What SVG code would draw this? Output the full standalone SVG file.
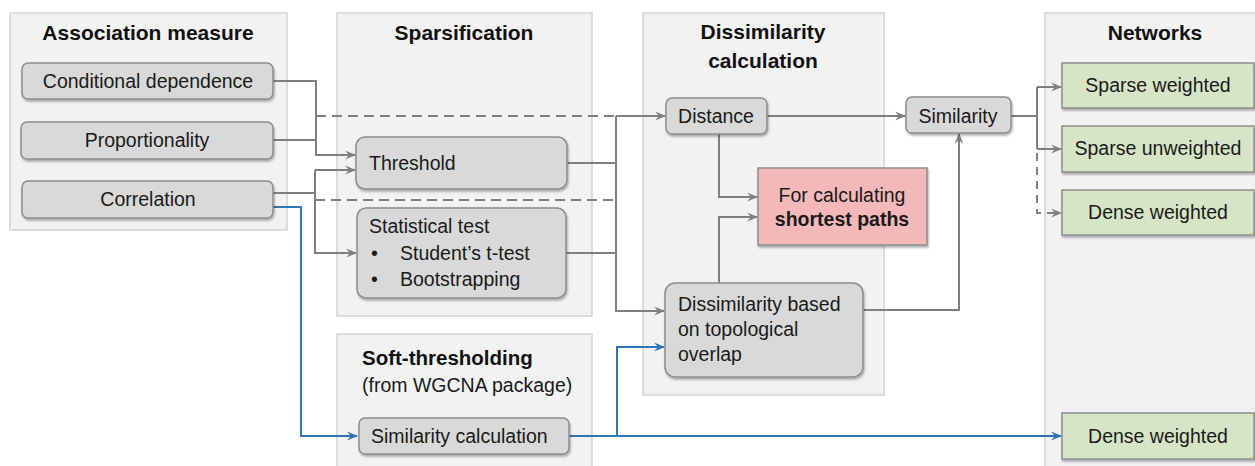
<svg xmlns="http://www.w3.org/2000/svg" width="1255" height="466" viewBox="0 0 1255 466">
<defs>
<style>
.panel{fill:#f2f2f2;stroke:#d2d2d2;stroke-width:1.5}
.node{fill:#d9d9d9;stroke:#8c8c8c;stroke-width:1.5;filter:url(#sh)}
.pink{fill:#f4b8b9;stroke:#8c8c8c;stroke-width:1.5;filter:url(#sh)}
.green{fill:#d6e5c6;stroke:#8c8c8c;stroke-width:1.5;filter:url(#sh)}
.t{font-family:"Liberation Sans",Arial,sans-serif;font-size:19.5px;fill:#1a1a1a}
.h{font-family:"Liberation Sans",Arial,sans-serif;font-size:21px;font-weight:bold;fill:#111}
.c{text-anchor:middle}
.b{font-weight:bold}
.g{fill:none;stroke:#7f7f7f;stroke-width:2}
.d{fill:none;stroke:#7f7f7f;stroke-width:2;stroke-dasharray:10 6}
.bl{fill:none;stroke:#2e75b6;stroke-width:2}
</style>
<filter id="sh" x="-10%" y="-10%" width="130%" height="140%">
<feDropShadow dx="1" dy="2" stdDeviation="1.2" flood-color="#000" flood-opacity="0.3"/>
</filter>
<marker id="ag" viewBox="0 0 10 10" refX="9" refY="5" markerWidth="11" markerHeight="11" markerUnits="userSpaceOnUse" orient="auto">
<path d="M0,1 L10,5 L0,9 L3.5,5 z" fill="#7f7f7f"/>
</marker>
<marker id="ab" viewBox="0 0 10 10" refX="9" refY="5" markerWidth="11" markerHeight="11" markerUnits="userSpaceOnUse" orient="auto">
<path d="M0,1 L10,5 L0,9 L3.5,5 z" fill="#2e75b6"/>
</marker>
</defs>

<g id="panels">
<g id="panel-association"><rect class="panel" x="10" y="13" width="277" height="217"/><text class="h c" x="148" y="40">Association measure</text></g>
<g id="panel-sparsification"><rect class="panel" x="337" y="13" width="255" height="303"/><text class="h c" x="464" y="40">Sparsification</text></g>
<g id="panel-soft"><rect class="panel" x="337" y="334" width="255" height="140"/><text class="h" x="362" y="365" style="font-size:20.5px">Soft-thresholding</text><text class="t" x="362" y="392">(from WGCNA package)</text></g>
<g id="panel-dissimilarity"><rect class="panel" x="643" y="13" width="241" height="382"/><text class="h c" x="763" y="39">Dissimilarity</text><text class="h c" x="763" y="68">calculation</text></g>
<g id="panel-networks"><rect class="panel" x="1045" y="13" width="220" height="460"/><text class="h c" x="1155" y="40">Networks</text></g>
</g>

<g id="connectors">
<path class="g" d="M273,81 H316 V155 H355" marker-end="url(#ag)"/>
<path class="g" d="M273,140 H316"/>
<path class="d" d="M316,116 H616"/>
<path class="g" d="M273,193 H315"/>
<path class="g" d="M315,170 V253 H356" marker-end="url(#ag)"/>
<path class="g" d="M315,170 H355" marker-end="url(#ag)"/>
<path class="d" d="M315,200 H616"/>
<path class="g" d="M567,163 H616"/>
<path class="g" d="M566,253 H616"/>
<path class="g" d="M616,116 V311 H664" marker-end="url(#ag)"/>
<path class="g" d="M616,116 H665" marker-end="url(#ag)"/>
<path class="g" d="M719,134 V197 H757" marker-end="url(#ag)"/>
<path class="g" d="M719,283 V217 H757" marker-end="url(#ag)"/>
<path class="g" d="M767,116 H905" marker-end="url(#ag)"/>
<path class="g" d="M863,310 H959 V134" marker-end="url(#ag)"/>
<path class="g" d="M1011,116 H1037"/>
<path class="g" d="M1037,87 V149"/>
<path class="g" d="M1037,87 H1061" marker-end="url(#ag)"/>
<path class="g" d="M1037,149 H1061" marker-end="url(#ag)"/>
<path class="d" d="M1037,153 V213 H1061" style="stroke-dasharray:8 6" marker-end="url(#ag)"/>
<path class="bl" d="M273,207 H301 V436 H357" marker-end="url(#ab)"/>
<path class="bl" d="M569,436 H1061" marker-end="url(#ab)"/>
<path class="bl" d="M617,436 V347 H664" marker-end="url(#ab)"/>
</g>

<g id="n-conditional"><rect class="node" x="22" y="63" width="251" height="36" rx="6"/><text class="t c" x="148" y="88">Conditional dependence</text></g>
<g id="n-proportionality"><rect class="node" x="21" y="122" width="252" height="37" rx="6"/><text class="t c" x="147" y="147">Proportionality</text></g>
<g id="n-correlation"><rect class="node" x="22" y="181" width="251" height="37" rx="6"/><text class="t c" x="148" y="206">Correlation</text></g>
<g id="n-threshold"><rect class="node" x="356" y="137" width="211" height="52" rx="9"/><text class="t" x="369" y="170">Threshold</text></g>
<g id="n-stattest"><rect class="node" x="357" y="208" width="209" height="90" rx="9"/><text class="t" x="369" y="233">Statistical test</text><text class="t" x="371" y="260">•</text><text class="t" x="400" y="260">Student’s t-test</text><text class="t" x="371" y="286">•</text><text class="t" x="400" y="286">Bootstrapping</text></g>
<g id="n-simcalc"><rect class="node" x="359" y="418" width="210" height="36" rx="6"/><text class="t" x="371" y="443">Similarity calculation</text></g>
<g id="n-distance"><rect class="node" x="666" y="98" width="101" height="36" rx="6"/><text class="t c" x="716" y="123">Distance</text></g>
<g id="n-shortest"><rect class="pink" x="758" y="168" width="169" height="77"/><text class="t c" x="842" y="202">For calculating</text><text class="t c b" x="842" y="226">shortest paths</text></g>
<g id="n-tom"><rect class="node" x="665" y="283" width="198" height="94" rx="10"/><text class="t" x="678" y="311">Dissimilarity based</text><text class="t" x="678" y="336">on topological</text><text class="t" x="678" y="361">overlap</text></g>
<g id="n-similarity"><rect class="node" x="906" y="97" width="105" height="36" rx="6"/><text class="t c" x="958" y="123">Similarity</text></g>
<g id="n-sparse-w"><rect class="green" x="1062" y="63" width="192" height="45"/><text class="t c" x="1158" y="92">Sparse weighted</text></g>
<g id="n-sparse-uw"><rect class="green" x="1062" y="126" width="192" height="46"/><text class="t c" x="1158" y="155">Sparse unweighted</text></g>
<g id="n-dense-w1"><rect class="green" x="1062" y="190" width="192" height="45"/><text class="t c" x="1158" y="219">Dense weighted</text></g>
<g id="n-dense-w2"><rect class="green" x="1062" y="413" width="192" height="46"/><text class="t c" x="1158" y="443">Dense weighted</text></g>
</svg>
